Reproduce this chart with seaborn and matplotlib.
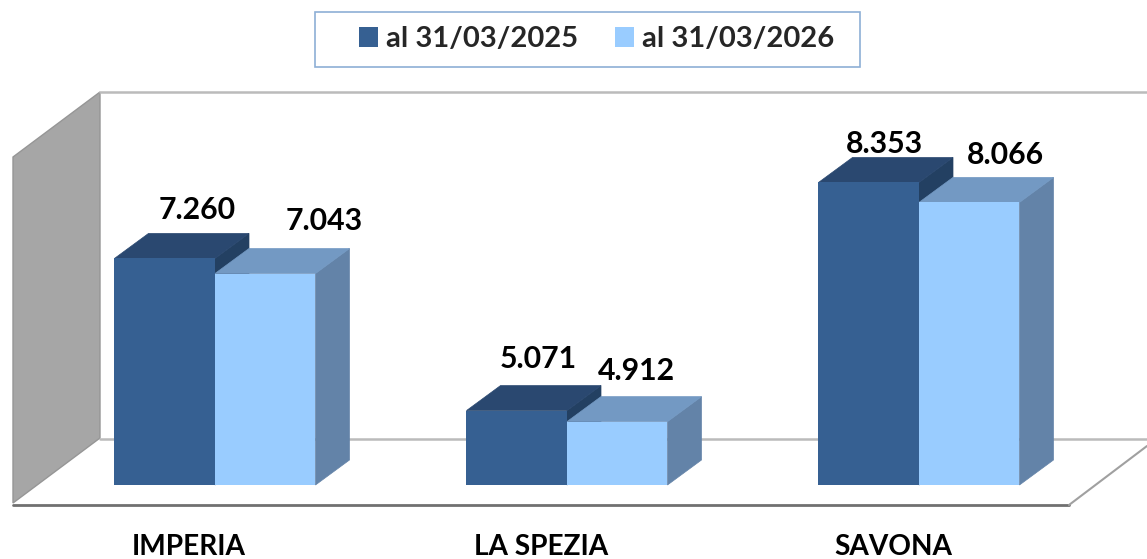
import matplotlib
matplotlib.use('Agg')
import matplotlib.pyplot as plt
from matplotlib.patches import Polygon, Rectangle, Patch
from matplotlib.transforms import ScaledTranslation
import pandas as pd
import seaborn as sns

# Values
provinces = ['IMPERIA', 'LA SPEZIA', 'SAVONA']
series_names = ['al 31/03/2025', 'al 31/03/2026']
values_2025 = [7260, 5071, 8353]
values_2026 = [7043, 4912, 8066]

# Colours: front, top, side of each series
front_colors = ['#366092', '#99CCFF']
top_colors = ['#2A4870', '#7399C3']
side_colors = ['#234062', '#6383A8']

# Label nudges in pixels (x, y above the front top edge)
label_nudge_2025 = [(32, 39), (21, 43), (16, 29)]
label_nudge_2026 = [(59, 44), (19, 42), (36, 38)]

W, H = 1147, 559
BASE_Y = 485
PX_PER_UNIT = 0.0695
Y_MIN = 4000
DEPTH_X = 34
DEPTH_Y = 25
FONT = 'Lato'

sns.set_theme(style='white')
plt.rcParams['font.family'] = [FONT, 'DejaVu Sans']

data = pd.DataFrame({
    'province': provinces * 2,
    'series': [series_names[0]] * 3 + [series_names[1]] * 3,
    'value': values_2025 + values_2026,
})

fig = plt.figure(figsize=(W / 100, H / 100), dpi=100, facecolor='white')

# Background: walls and floor, in pixel coordinates
bg = fig.add_axes([0, 0, 1, 1], zorder=0)
bg.set_xlim(0, W)
bg.set_ylim(H, 0)
bg.axis('off')
bg.add_patch(Polygon([(13, 157), (100, 92), (100, 438), (13, 503)],
                     facecolor='#A6A6A6', edgecolor='#969696', lw=1.0))
bg.plot([100, W], [92, 92], color='#BBBBBB', lw=1.8)
bg.plot([100, W], [439, 439], color='#BBBBBB', lw=1.8)
bg.plot([13, 1069], [505, 505], color='#707070', lw=2.0)
bg.plot([1069, 1147], [505, 446], color='#A0A0A0', lw=1.5)

# Legend frame
bg.add_patch(Rectangle((315, 12), 545, 55, facecolor='white',
                       edgecolor='#8EAFD6', lw=1.2))

# Main axes: bottom edge sits on the front of the floor
ax = fig.add_axes([0, (H - BASE_Y) / H, 1, BASE_Y / H], zorder=1)
ax.patch.set_alpha(0)

sns.barplot(data=data, x='province', y='value', hue='series',
            palette=front_colors, width=201 / 352, gap=0, saturation=1,
            linewidth=0, legend=False, ax=ax)

ax.set_xlim(-215 / 352, (W - 215) / 352)
ax.set_ylim(Y_MIN, Y_MIN + BASE_Y / PX_PER_UNIT)

dx = DEPTH_X / 352
dy = DEPTH_Y / PX_PER_UNIT

# Bar depth faces, built from the bars seaborn drew
for group in range(len(provinces)):
    for s, container in enumerate(ax.containers):
        bar = container[group]
        x0 = bar.get_x()
        x1 = x0 + bar.get_width()
        top = bar.get_height()
        z = 3 + s * 0.1
        ax.add_patch(Polygon([(x1, Y_MIN), (x1 + dx, Y_MIN + dy), (x1 + dx, top + dy), (x1, top)],
                             facecolor=side_colors[s], edgecolor=side_colors[s], lw=0.5,
                             clip_on=False, zorder=z))
        ax.add_patch(Polygon([(x0, top), (x0 + dx, top + dy), (x1 + dx, top + dy), (x1, top)],
                             facecolor=top_colors[s], edgecolor=top_colors[s], lw=0.5,
                             clip_on=False, zorder=z))
        bar.set_zorder(5)

# Value labels
nudges = [label_nudge_2025, label_nudge_2026]
for s, container in enumerate(ax.containers):
    for i, bar in enumerate(container):
        x = bar.get_x() + bar.get_width() / 2
        v = bar.get_height()
        ax.annotate(f'{v:,.0f}'.replace(',', '.'), xy=(x, v),
                    xytext=(nudges[s][i][0] * 0.72, nudges[s][i][1] * 0.72),
                    textcoords='offset points', ha='center', va='baseline',
                    fontsize=21.8, fontweight='bold', color='black', zorder=6)

# Axis text
ax.set_xlabel('')
ax.set_ylabel('')
ax.set_yticks([])
ax.tick_params(axis='x', length=0, pad=35.5)
shift = ScaledTranslation(-26 / 100, 0, fig.dpi_scale_trans)
for lab in ax.get_xticklabels():
    lab.set_fontsize(20.2)
    lab.set_fontweight('bold')
    lab.set_color('black')
    lab.set_transform(lab.get_transform() + shift)
sns.despine(ax=ax, left=True, bottom=True, top=True, right=True)

# Legend
handles = [Patch(facecolor=c, edgecolor='none') for c in front_colors]
fig.legend(handles, series_names, ncol=2, frameon=False, loc='center',
           bbox_to_anchor=(596.5 / W, 1 - 39 / H),
           prop={'family': FONT, 'weight': 'bold', 'size': 21},
           handlelength=0.66, handleheight=0.66, handletextpad=0.27, columnspacing=1.25)

fig.savefig('out.png', dpi=100)
